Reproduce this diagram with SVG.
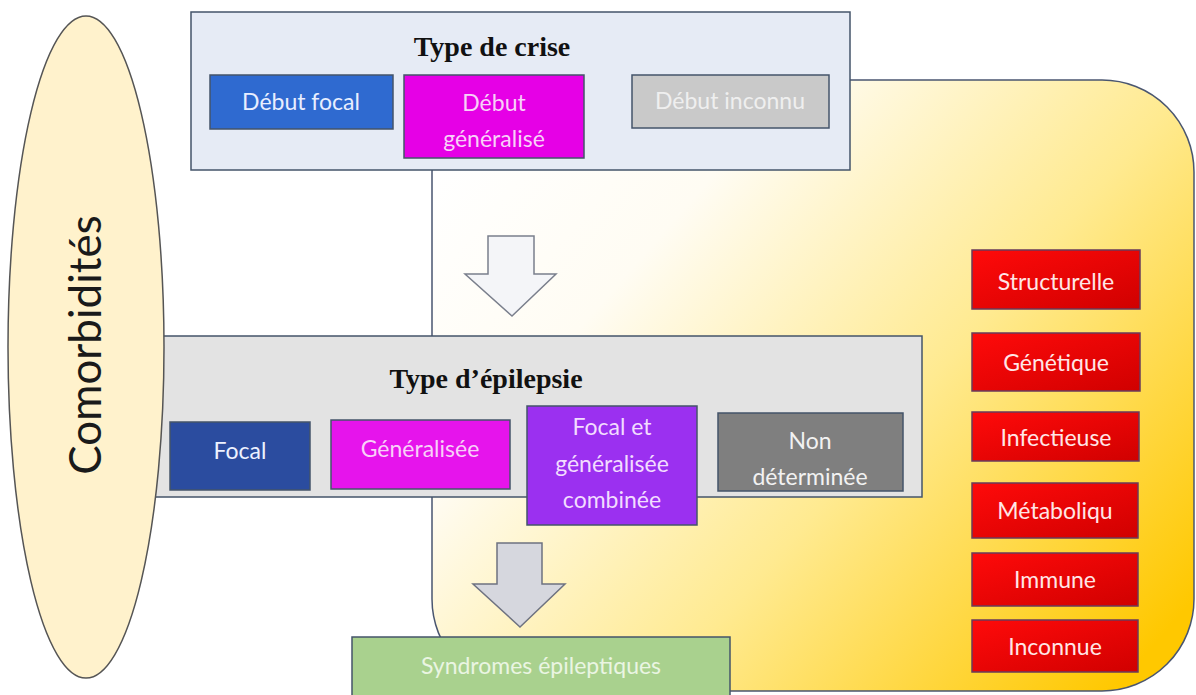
<svg xmlns="http://www.w3.org/2000/svg" width="1196" height="695" viewBox="0 0 1196 695">
<defs>
<linearGradient id="gy" x1="0" y1="0.15" x2="1" y2="0.85">
<stop offset="0" stop-color="#FFFFFF"/>
<stop offset="0.25" stop-color="#FFFCF3"/>
<stop offset="0.6" stop-color="#FFEA90"/>
<stop offset="1" stop-color="#FFC800"/>
</linearGradient>
<linearGradient id="gr" x1="0" y1="0" x2="1" y2="1">
<stop offset="0" stop-color="#FF0A0A"/>
<stop offset="1" stop-color="#D00000"/>
</linearGradient>
<style>
.frame{stroke:#4A5670;stroke-width:1.5}
.box{stroke:#44546A;stroke-width:1.5}
.t{font-family:Lato,"Liberation Sans",sans-serif;font-size:23px;text-anchor:middle}
.title{font-family:"Liberation Serif",serif;font-weight:bold;font-size:28px;text-anchor:middle;fill:#111}
.red{fill:url(#gr);stroke:#6A3A5A;stroke-width:1.5}
.rt{fill:#FFE6E6}
</style>
</defs>
<g id="etiologie-bg">
<rect x="432" y="80" width="762" height="611" rx="92" fill="url(#gy)" class="frame"/>
</g>
<g id="type-crise">
<rect x="191" y="12" width="659" height="158" fill="#E6EBF5" class="box"/>
<text x="492" y="56" class="title">Type de crise</text>
</g>
<g id="debut-focal">
<rect x="210" y="75" width="183" height="54" fill="#2F6AD0" class="box"/>
<text x="301" y="110" class="t" fill="#E8EEFF">Début focal</text>
</g>
<g id="debut-generalise">
<rect x="404" y="75" width="180" height="83" fill="#E600E6" class="box"/>
<text x="494" y="111" class="t" fill="#F8D0F8">Début</text>
<text x="494" y="147" class="t" fill="#F8D0F8">généralisé</text>
</g>
<g id="debut-inconnu">
<rect x="632" y="75" width="197" height="53" fill="#C9C9C9" class="box"/>
<text x="730" y="109" class="t" fill="#EFEFEF">Début inconnu</text>
</g>
<g id="connectors">
<path d="M488,236 H534 V274 H556 L512,316 L465,274 H488 Z" fill="#F4F5F8" stroke="#7A7F8C" stroke-width="1.5"/>
<path d="M497,543 H542 V584 H565 L520,627 L473,584 H497 Z" fill="#D6D7DE" stroke="#6E7280" stroke-width="1.5"/>
</g>
<g id="type-epilepsie">
<rect x="150" y="336" width="772" height="161" fill="#E3E3E3" class="box"/>
<text x="486" y="388" class="title">Type d’épilepsie</text>
</g>
<g id="focal">
<rect x="170" y="422" width="140" height="68" fill="#2B4C9F" class="box"/>
<text x="240" y="459" class="t" fill="#EEF2FF">Focal</text>
</g>
<g id="generalisee">
<rect x="331" y="420" width="179" height="69" fill="#E614EC" class="box"/>
<text x="420" y="457" class="t" fill="#F8D0F8">Généralisée</text>
</g>
<g id="focal-generalisee">
<rect x="527" y="406" width="170" height="119" fill="#9B30F0" class="box"/>
<text x="612" y="435" class="t" fill="#F2DCFF">Focal et</text>
<text x="612" y="472" class="t" fill="#F2DCFF">généralisée</text>
<text x="612" y="508" class="t" fill="#F2DCFF">combinée</text>
</g>
<g id="non-determinee">
<rect x="718" y="413" width="185" height="78" fill="#7F7F7F" class="box"/>
<text x="810" y="449" class="t" fill="#F2F2F2">Non</text>
<text x="810" y="485" class="t" fill="#F2F2F2">déterminée</text>
</g>
<g id="comorbidites">
<ellipse cx="86" cy="347" rx="78" ry="331" fill="#FFF2CC" stroke="#555" stroke-width="1.5"/>
<text transform="translate(101,345) rotate(-90)" x="0" y="0" font-family="Lato,'Liberation Sans',sans-serif" font-size="44" text-anchor="middle" fill="#1A1A1A">Comorbidités</text>
</g>
<g id="syndromes">
<rect x="352" y="637" width="378" height="62" fill="#A9D18E" class="box"/>
<text x="541" y="674" class="t" fill="#EAF5E2">Syndromes épileptiques</text>
</g>
<g id="structurelle">
<rect x="972" y="250" width="168" height="59" class="red"/>
<text x="1056" y="290" class="t rt">Structurelle</text>
</g>
<g id="genetique">
<rect x="972" y="333" width="168" height="58" class="red"/>
<text x="1056" y="371" class="t rt">Génétique</text>
</g>
<g id="infectieuse">
<rect x="972" y="412" width="167" height="49" class="red"/>
<text x="1056" y="446" class="t rt">Infectieuse</text>
</g>
<g id="metabolique">
<rect x="972" y="483" width="166" height="55" class="red"/>
<text x="1055" y="519" class="t rt">Métaboliqu</text>
</g>
<g id="immune">
<rect x="972" y="553" width="166" height="53" class="red"/>
<text x="1055" y="588" class="t rt">Immune</text>
</g>
<g id="inconnue">
<rect x="972" y="620" width="166" height="52" class="red"/>
<text x="1055" y="655" class="t rt">Inconnue</text>
</g>
</svg>
